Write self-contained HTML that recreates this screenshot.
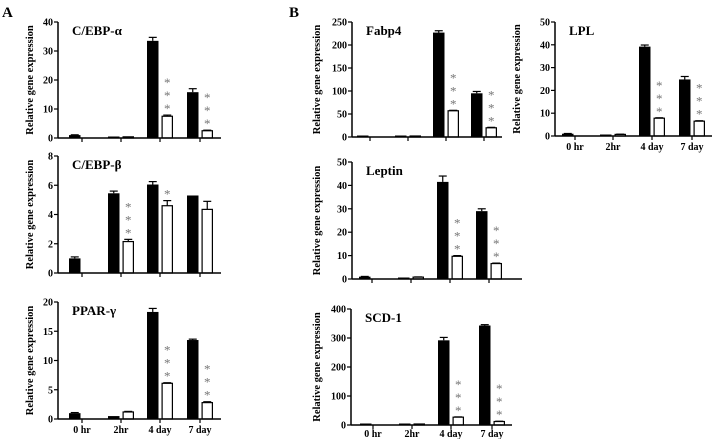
<!DOCTYPE html>
<html><head><meta charset="utf-8">
<style>
html,body{margin:0;padding:0;background:#fff;}
svg{display:block;font-family:"Liberation Serif",serif;font-weight:bold;}
</style></head>
<body>
<svg id="fig" width="713" height="439" viewBox="0 0 713 439" xmlns="http://www.w3.org/2000/svg">
<text x="2" y="17" font-size="15">A</text>
<text x="289" y="17" font-size="15">B</text>
</svg>
<script>
const categories = ["0 hr","2hr","4 day","7 day"];
const cebpaBlack = [1,0.4,33.5,15.8], cebpaBlackErr=[0.1,0,1.2,1.2];
const cebpaWhite = [0,0.4,7.5,2.5], cebpaWhiteErr=[0,0,0.4,0.2];
const cebpaStars = [0,0,3,3];
const cebpbBlack = [1,5.45,6.05,5.3], cebpbBlackErr=[0.1,0.15,0.2,0];
const cebpbWhite = [0,2.15,4.6,4.35], cebpbWhiteErr=[0,0.15,0.35,0.55];
const cebpbStars = [0,3,1,0];
const pparBlack = [1,0.5,18.3,13.5], pparBlackErr=[0.1,0,0.6,0.15];
const pparWhite = [0,1.2,6.1,2.8], pparWhiteErr=[0,0.1,0.1,0.15];
const pparStars = [0,0,3,3];
const fabpBlack = [1,1,227,95], fabpBlackErr=[0,0,4,4];
const fabpWhite = [0,1,57,20], fabpWhiteErr=[0,0,1,1];
const fabpStars = [0,0,3,3];
const lplBlack = [1,0.6,39.2,24.8], lplBlackErr=[0.1,0,0.7,1.3];
const lplWhite = [0,0.7,7.8,6.5], lplWhiteErr=[0,0.1,0.2,0.2];
const lplStars = [0,0,3,3];
const leptinBlack = [1,0.6,41.5,29], leptinBlackErr=[0.1,0,2.5,1];
const leptinWhite = [0,0.8,9.7,6.6], leptinWhiteErr=[0,0.1,0.3,0.2];
const leptinStars = [0,0,3,3];
const scdBlack = [1,1,292,343], scdBlackErr=[0,0,10,3];
const scdWhite = [0,1,27,12], scdWhiteErr=[0,0,1,1];
const scdStars = [0,0,3,3];
const cebpaTicks=[0,10,20,30,40], cebpbTicks=[0,2,4,6,8], pparTicks=[0,5,10,15,20];
const fabpTicks=[0,50,100,150,200,250], lplTicks=[0,10,20,30,40,50];
const leptinTicks=[0,10,20,30,40,50], scdTicks=[0,100,200,300,400];

const NS="http://www.w3.org/2000/svg";
const svg=document.getElementById('fig');
function mk(tag,attrs,parent){const e=document.createElementNS(NS,tag);for(const k in attrs)e.setAttribute(k,attrs[k]);(parent||svg).appendChild(e);return e;}

const panels=[
 {id:'cebpa',title:'C/EBP-α',ax:58,yT:22,yB:138,xe:221,cx:[82,121,160,200],tt:33,ticks:cebpaTicks,b:cebpaBlack,be:cebpaBlackErr,w:cebpaWhite,we:cebpaWhiteErr,s:cebpaStars,lab:false},
 {id:'cebpb',title:'C/EBP-β',ax:58,yT:156,yB:273,xe:221,cx:[82,121,160,200],tt:33,ticks:cebpbTicks,b:cebpbBlack,be:cebpbBlackErr,w:cebpbWhite,we:cebpbWhiteErr,s:cebpbStars,lab:false},
 {id:'ppar',title:'PPAR-γ',ax:58,yT:302,yB:419,xe:221,cx:[82,121,160,200],tt:33,ticks:pparTicks,b:pparBlack,be:pparBlackErr,w:pparWhite,we:pparWhiteErr,s:pparStars,lab:true},
 {id:'fabp4',title:'Fabp4',ax:352,yT:22,yB:137,xe:502,cx:[370,408,446,484],tt:320,ticks:fabpTicks,b:fabpBlack,be:fabpBlackErr,w:fabpWhite,we:fabpWhiteErr,s:fabpStars,lab:false},
 {id:'lpl',title:'LPL',ax:555,yT:22,yB:136,xe:712,cx:[575,613,652,692],tt:520,ticks:lplTicks,b:lplBlack,be:lplBlackErr,w:lplWhite,we:lplWhiteErr,s:lplStars,lab:true},
 {id:'leptin',title:'Leptin',ax:352,yT:162,yB:279,xe:522,cx:[372,411,450,489],tt:320,ticks:leptinTicks,b:leptinBlack,be:leptinBlackErr,w:leptinWhite,we:leptinWhiteErr,s:leptinStars,lab:false},
 {id:'scd1',title:'SCD-1',ax:351,yT:309,yB:425,xe:512,cx:[373,412,451,492],tt:320,ticks:scdTicks,b:scdBlack,be:scdBlackErr,w:scdWhite,we:scdWhiteErr,s:scdStars,lab:true}
];

panels.forEach(p=>{
  const g=mk('g',{});
  
  
  const max=p.ticks[p.ticks.length-1];
  const y=v=>p.yB-(v/max)*(p.yB-p.yT);
  const bw=11.5;
  for(let i=0;i<categories.length;i++){
    const c=p.cx[i];
    if(p.b[i]>0){
      const top=Math.min(y(p.b[i]),p.yB-1.5);
      const r=mk('rect',{x:c-1.5-bw,y:top,width:bw,height:p.yB-top,fill:'#000'},g);
      
      
      if(p.be[i]>0){
        const ex=c-1.5-bw/2;
        mk('line',{x1:ex,x2:ex,y1:y(p.b[i]),y2:y(p.b[i]+p.be[i]),stroke:'#000','stroke-width':1.2},g);
        mk('line',{x1:ex-4,x2:ex+4,y1:y(p.b[i]+p.be[i]),y2:y(p.b[i]+p.be[i]),stroke:'#000','stroke-width':1.2},g);
      }
    }
    if(p.w[i]>0){
      const top=y(p.w[i]);
      const r=mk('rect',{x:c+1.5+0.6,y:Math.min(top,p.yB-1),width:bw-1.2,height:Math.max(p.yB-top,1),fill:'#fff',stroke:'#000','stroke-width':1.2},g);
      
      
      if(p.we[i]>0){
        const ex=c+1.5+bw/2;
        mk('line',{x1:ex,x2:ex,y1:top,y2:y(p.w[i]+p.we[i]),stroke:'#000','stroke-width':1.2},g);
        mk('line',{x1:ex-4,x2:ex+4,y1:y(p.w[i]+p.we[i]),y2:y(p.w[i]+p.we[i]),stroke:'#000','stroke-width':1.2},g);
      }
    }
    for(let k=0;k<p.s[i];k++){
      const top=y(p.w[i]+p.we[i]);
      const t=mk('text',{x:c+1.5+bw/2,y:top-2-k*13,'font-size':13,'text-anchor':'middle',fill:'#777','font-weight':'normal'},g);
      t.textContent='*';
      
      
    }
  }
  mk('line',{x1:p.ax,x2:p.ax,y1:p.yT,y2:p.yB,stroke:'#000','stroke-width':1.5},g);
  mk('line',{x1:p.ax,x2:p.xe,y1:p.yB,y2:p.yB,stroke:'#000','stroke-width':1.5},g);
  p.ticks.forEach(v=>{
    mk('line',{x1:p.ax-4,x2:p.ax,y1:y(v),y2:y(v),stroke:'#000','stroke-width':1.2},g);
    const t=mk('text',{x:p.ax-5,y:y(v)+3.5,'font-size':10,'text-anchor':'end'},g);
    t.textContent=v;
    
    
  });
  p.cx.forEach((c,i)=>{
    mk('line',{x1:c,x2:c,y1:p.yB,y2:p.yB+4,stroke:'#000','stroke-width':1.2},g);
    if(p.lab){
      const t=mk('text',{x:c,y:Math.min(p.yB+14,437),'font-size':10,'text-anchor':'middle'},g);
      t.textContent=categories[i];
      
      
    }
  });
  const tt=mk('text',{x:p.ax+14,y:p.yT+13,'font-size':13},g);
  tt.textContent=p.title;
  
  
  const yc=(p.yT+p.yB)/2;
  const at=mk('text',{x:p.tt,y:yc,'font-size':10.5,'text-anchor':'middle',transform:'rotate(-90 '+p.tt+' '+yc+')'},g);
  at.textContent='Relative gene expression';
  
  
});
</script>
</body></html>
